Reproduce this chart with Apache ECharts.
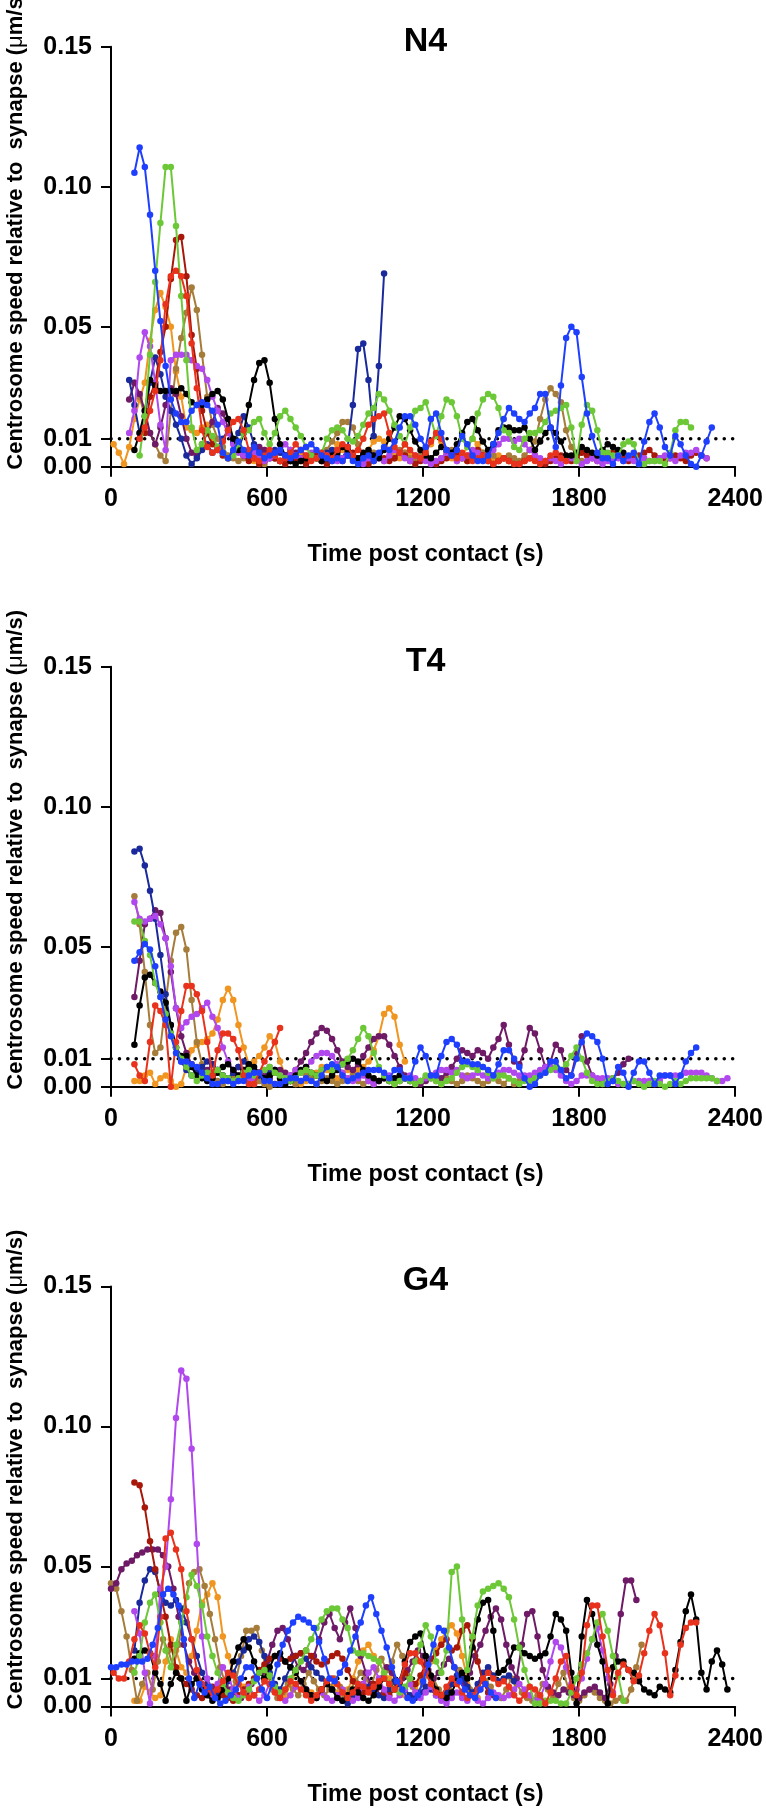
<!DOCTYPE html>
<html><head><meta charset="utf-8">
<script src="https://cdn.jsdelivr.net/npm/echarts@6/dist/echarts.min.js"></script>
<style>html,body{margin:0;padding:0;background:#fff}#c{width:766px;height:1810px}</style>
</head><body><div id="c"></div>
<script>
// ---- axis / labels ----
const STEP = 20; // sampling interval (s)
const xTicks = [0, 600, 1200, 1800, 2400];
const yTicks = [0, 0.01, 0.05, 0.10, 0.15];
const panelTitles = ['N4', 'T4', 'G4'];
const threshold = 0.01;
const xTitle = 'Time post contact (s)';

// ---- N4 (start time, values every 20 s) ----
const n4Orange_t0 = 10;
const n4Orange = [.008,.005,.001,.007,.017,.024,.030,.045,.056,.062,.057,.050,.034,.025,.014,.013,.012,.014,.015,.010,
.007,.005,.003,.005,.008,.006,.003,.002,.004,.006,.005,.003,.002,.004,.003,.002,.005,.007,.004,.003,
.002,.003,.005,.008,.006,.004,.003,.002,.004,.006,.009,.010,.009,.006,.004,.003,.005,.004,.002,.003,
.006,.008,.011,.009,.005,.003,.002,.004,.007,.010,.008,.005,.003,.002,.004,.003,.002];
const n4Brown_t0 = 90;
const n4Brown = [.030,.025,.018,.012,.008,.004,.002,.020,.035,.046,.055,.064,.056,.040,.025,.015,.010,.007,.004,.003,
.002,.003,.005,.004,.002,.001,.003,.004,.002,.003,.005,.004,.006,.003,.004,.005,.003,.006,.009,.012,
.016,.016,.014,.008,.004,.003,.005,.004,.002,.003,.003,.006,.005,.003,.002,.004,.003,.002,.001,.003,
.004,.006,.005,.003,.002,.004,.006,.005,.003,.004,.002,.003,.004,.003,.002,.004,.006,.009,.017,.024,
.028,.026,.023,.013,.007,.004,.002];
const n4DarkPurple_t0 = 70;
const n4DarkPurple = [.024,.030,.026,.020,.012,.008,.014,.022,.028,.026,.018,.010,.005,.004,.008,.012,.016,.021,.019,.014,
.009,.006,.004,.003,.005,.007,.006,.004,.003,.002,.004,.006,.005,.003,.002];
const n4Navy_t0 = 70;
const n4Navy = [.031,.022,.012,.018,.030,.039,.033,.025,.020,.015,.010,.004,.001,.003,.006,.008,.005,.007,.010,.013,
.009,.012,.018,.014,.008,.005,.004,.003,.006,.005,.003,.002,.004,.003,.002,.003,.004,.003,.005,.006,
.004,.003,.007,.022,.042,.044,.031,.011,.036,.069];
const n4DarkRed_t0 = 130;
const n4DarkRed = [.012,.025,.030,.041,.050,.067,.081,.082,.068,.047,.035,.020,.012,.008,.006,.004,.003,.005,.007,.004,
.002,.003,.001,.002,.004,.003,.002,.001,.002,.003,.002,.001,.003,.004,.002,.001,.002,.003,.002,.004,
.005,.003,.002,.001,.002,.004,.003,.002,.003,.005,.004,.002,.001,.002,.003,.002,.001,.002,.003,.004,
.005,.003,.002,.004,.006,.004,.002,.001,.002,.003,.002,.001,.001,.002,.003,.004,.002,.001,.002,.003,
.004,.003,.002,.003,.005,.004,.003,.002,.003,.004,.005,.004,.003,.002,.003,.004,.005,.006,.004,.003,
.002,.003,.004,.003,.002,.004,.005,.004,.003];
const n4Violet_t0 = 70;
const n4Violet = [.012,.020,.039,.048,.043,.030,.015,.006,.038,.040,.040,.040,.038,.036,.035,.031,.025,.020,.016,.012,
.008,.005,.004,.006,.005,.003,.002,.003,.004,.006,.008,.006,.004,.003,.004,.005,.003,.002,.004,.003,
.002,.003,.005,.004,.002,.001,.003,.004,.003,.002,.004,.006,.005,.003,.002,.004,.003,.002,.001,.002,
.003,.005,.004,.002,.003,.004,.006,.005,.003,.004,.006,.008,.010,.010,.009,.010,.008,.006,.004,.003,
.002,.003,.002,.001,.002,.003,.002,.001,.002,.003,.002,.001,.002,.003,.003,.002,.003,.002,.002,.003,
.002,.002,.003,.004,.003,.002,.004,.005,.005,.006,.004,.003];
const n4Black_t0 = 90;
const n4Black = [.006,.012,.020,.031,.029,.027,.027,.027,.027,.028,.026,.023,.022,.022,.024,.026,.027,.024,.017,.010,
.006,.012,.022,.031,.037,.038,.030,.017,.008,.004,.002,.001,.002,.003,.004,.003,.002,.003,.004,.005,
.007,.006,.004,.003,.005,.006,.004,.003,.006,.010,.014,.018,.017,.013,.009,.006,.004,.003,.005,.007,
.006,.005,.008,.012,.016,.017,.013,.009,.006,.008,.013,.014,.014,.013,.013,.014,.010,.006,.009,.012,
.014,.012,.009,.004,.004,.005,.007,.006,.005,.004,.006,.008,.007,.006,.005];
const n4Green_t0 = 110;
const n4Green = [.004,.018,.040,.066,.087,.107,.107,.086,.061,.038,.014,.006,.008,.013,.011,.007,.005,.003,.004,.008,
.012,.013,.016,.017,.012,.008,.012,.018,.020,.017,.014,.011,.007,.004,.003,.005,.010,.013,.014,.013,
.010,.009,.011,.015,.019,.021,.026,.024,.020,.015,.011,.008,.014,.020,.021,.023,.017,.011,.018,.024,
.023,.018,.010,.007,.010,.019,.024,.026,.025,.021,.013,.012,.007,.006,.010,.012,.012,.013,.016,.019,
.020,.021,.022,.014,.002,.015,.022,.020,.013,.005,.005,.004,.004,.008,.009,.008,.001,.001,.002,.002,
.002,.001,.005,.013,.016,.016,.014];
const n4Red_t0 = 110;
const n4Red = [.010,.014,.020,.027,.038,.058,.068,.070,.068,.061,.044,.028,.013,.007,.005,.006,.009,.013,.016,.017,
.013,.006,.003,.002,.004,.006,.004,.002,.003,.005,.008,.006,.004,.002,.003,.005,.004,.003,.006,.008,
.007,.004,.006,.010,.015,.017,.018,.019,.012,.007,.005,.008,.006,.004,.003,.005,.009,.012,.010,.006,
.004,.003,.005,.004,.002,.003,.004,.002,.001,.002,.003,.002,.001,.001,.002,.003,.002,.001,.002,.004,
.005,.003,.002];
const n4Blue_t0 = 90;
const n4Blue = [.105,.114,.107,.090,.070,.052,.036,.024,.019,.016,.016,.020,.022,.023,.022,.020,.015,.005,.003,.006,
.009,.006,.004,.007,.005,.003,.004,.005,.006,.004,.003,.004,.006,.007,.008,.006,.004,.003,.002,.003,
.002,.004,.002,.001,.003,.004,.002,.005,.007,.006,.009,.014,.018,.018,.015,.010,.007,.017,.019,.012,
.006,.004,.006,.011,.008,.004,.002,.002,.004,.008,.012,.017,.021,.019,.017,.016,.019,.021,.026,.026,
.014,.007,.029,.046,.050,.048,.032,.019,.011,.005,.003,.003,.001,.004,.002,.004,.005,.001,.009,.016,
.019,.014,.007,.004,.011,.008,.004,.001,.000,.004,.009,.014];

// ---- T4 ----
const t4Orange_t0 = 90;
const t4Orange = [.002,.002,.004,.005,.001,.003,.004,.002,.000,.001,.007,.013,.015,.016,.017,.019,.024,.031,.035,.031,
.022,.014,.008,.009,.011,.014,.018,.016,.009,.004,.002,.001,.001,.002,.003,.005,.007,.006,.004,.003,
.004,.006,.005,.006,.007,.009,.013,.018,.026,.028,.025,.015,.009];
const t4Brown_t0 = 90;
const t4Brown = [.068,.058,.041,.022,.012,.014,.030,.045,.055,.057,.049,.031,.016,.008,.004,.003,.002,.001,.002,.003,
.002,.004,.003,.001,.002,.001,.000,.001,.002,.003,.002,.001,.002,.004,.003,.001,.002,.003,.002,.001,
.002,.003,.004,.002,.001,.002,.001,.002,.003,.002,.001,.002,.003,.002,.001,.002,.003,.004,.002,.001,
.003,.002,.001,.002,.004,.003,.002,.001,.002,.003,.002,.001,.003,.001,.002];
const t4DarkPurple_t0 = 90;
const t4DarkPurple = [.032,.045,.058,.060,.063,.062,.053,.041,.028,.018,.012,.008,.005,.004,.006,.008,.006,.004,.003,.005,
.007,.006,.004,.003,.005,.004,.003,.005,.006,.005,.004,.006,.009,.012,.016,.019,.021,.020,.017,.013,
.009,.007,.006,.008,.011,.014,.017,.018,.018,.015,.011,.007,.004,.003,.002,.001,.002,.003,.004,.003,
.005,.007,.010,.013,.012,.011,.013,.012,.010,.014,.017,.022,.015,.009,.008,.013,.021,.019,.013,.007,
.009,.015,.013,.006,.004,.012,.018,.009,.004,.002,.001,.002,.003,.005,.008,.010];
const t4Navy_t0 = 90;
const t4Navy = [.084,.085,.079,.070,.060,.047,.033,.022,.014,.009,.006,.004,.005,.007,.009,.008,.006,.004,.003,.005,
.007,.009,.008,.006,.004,.003,.005,.006,.004,.003,.002];
const t4Violet_t0 = 90;
const t4Violet = [.066,.060,.059,.060,.061,.058,.053,.043,.028,.021,.023,.025,.026,.028,.030,.025,.021,.014,.009,.006,
.004,.003,.002,.003,.005,.006,.007,.006,.004,.003,.004,.006,.005,.007,.009,.011,.012,.012,.011,.008,
.005,.003,.002,.003,.004,.002,.001,.002,.003,.004,.003,.002,.003,.004,.003,.002,.003,.004,.005,.006,
.006,.005,.006,.004,.003,.004,.005,.004,.003,.004,.005,.006,.006,.005,.004,.004,.004,.005,.006,.007,
.007,.006,.004,.002,.001,.002,.004,.004,.004,.003,.003,.003,.002,.001,.001,.001,.002,.002,.002,.002,
.001,.002,.004,.004,.004,.004,.005,.005,.005,.005,.004,.003,.002,.002,.003];
const t4Black_t0 = 90;
const t4Black = [.015,.029,.039,.040,.037,.034,.030,.022,.014,.011,.011,.007,.004,.003,.002,.003,.005,.007,.008,.006,
.004,.006,.008,.007,.005,.003,.004,.006,.003,.001,.002,.004,.006,.007,.005,.004,.003,.002,.004,.006,
.008,.009,.010,.009,.006,.004,.003,.002,.003,.002,.003,.004,.003,.002];
const t4Green_t0 = 90;
const t4Green = [.059,.059,.052,.047,.037,.032,.026,.019,.014,.010,.007,.004,.002,.004,.005,.005,.006,.004,.003,.002,
.003,.005,.006,.004,.005,.006,.007,.005,.004,.003,.002,.003,.005,.006,.005,.004,.006,.007,.006,.007,
.008,.010,.013,.017,.021,.018,.012,.007,.004,.002,.001,.002,.003,.002,.001,.002,.004,.003,.002,.001,
.002,.003,.005,.007,.008,.007,.006,.007,.005,.003,.004,.004,.003,.002,.001,.002,.002,.003,.004,.005,
.006,.007,.006,.008,.011,.014,.010,.005,.002,.001,.001,.002,.003,.002,.001,.001,.002,.001,.000,.001,
.002,.001,.000,.001,.002,.001,.002,.003,.003,.003,.003,.003,.002];
const t4Red_t0 = 90;
const t4Red = [.008,.004,.002,.016,.029,.027,.022,.000,.016,.027,.036,.036,.033,.027,.016,.004,.013,.019,.019,.017,
.013,.004,.001,.001,.005,.009,.012,.016,.021];
const t4Blue_t0 = 90;
const t4Blue = [.045,.048,.051,.049,.043,.032,.024,.018,.012,.009,.009,.008,.007,.005,.003,.001,.001,.002,.002,.001,
.002,.002,.004,.005,.005,.002,.002,.001,.001,.002,.003,.003,.002,.003,.002,.001,.004,.007,.008,.007,
.004,.002,.003,.004,.005,.006,.006,.006,.005,.003,.006,.006,.003,.003,.009,.014,.011,.004,.004,.011,
.016,.017,.015,.009,.009,.008,.008,.007,.006,.004,.008,.013,.013,.010,.007,.003,.000,.001,.004,.005,
.009,.009,.006,.003,.004,.010,.016,.019,.018,.016,.010,.001,.002,.007,.005,.000,.005,.009,.009,.005,
.001,.004,.004,.004,.001,.004,.009,.012,.014];

// ---- G4 ----
const g4Orange_t0 = 90;
const g4Orange = [.002,.002,.007,.005,.003,.004,.016,.024,.020,.014,.012,.018,.027,.037,.040,.044,.039,.025,.018,.012,
.009,.007,.005,.004,.006,.009,.011,.008,.005,.004,.008,.012,.009,.006,.005,.004,.006,.008,.007,.005,
.004,.006,.010,.016,.020,.022,.018,.016,.012,.010,.008,.006,.004,.003,.006,.009,.012,.016,.020,.024,
.027,.029,.026,.018,.010,.005,.003];
const g4Brown_t0 = 0;
const g4Brown = [.044,.042,.034,.025,.013,.002,.008,.012,.006,.016,.024,.020,.014,.022,.035,.044,.048,.049,.043,.033,
.024,.014,.008,.005,.009,.018,.027,.027,.028,.020,.012,.006,.003,.005,.008,.006,.004,.008,.012,.009,
.006,.004,.006,.010,.007,.004,.006,.009,.012,.010,.007,.013,.017,.013,.016,.022,.018,.011,.007,.005,
.008,.012,.010,.006,.004,.006,.009,.013,.010,.006,.004,.006,.009,.007,.004,.003,.006,.010,.008,.005,
.003,.002,.004,.008,.006,.003,.008,.012,.006,.003,.002,.004,.006,.005,.003,.002,.001,.002,.003,.002,
.006,.014,.022];
const g4DarkPurple_t0 = 0;
const g4DarkPurple = [.042,.044,.049,.051,.052,.054,.055,.056,.056,.056,.054,.050,.042,.032,.022,.016,.012,.009,.006,.004,
.003,.005,.007,.006,.004,.003,.005,.008,.010,.012,.016,.022,.027,.028,.024,.018,.014,.013,.015,.018,
.024,.030,.033,.028,.024,.030,.035,.028,.018,.012,.008,.006,.010,.014,.012,.008,.010,.013,.016,.020,
.018,.013,.010,.012,.015,.017,.014,.010,.008,.012,.018,.022,.027,.032,.035,.031,.022,.014,.010,.022,
.033,.034,.025,.013,.007,.005,.004,.006,.005,.004,.003,.005,.006,.007,.005,.003,.008,.018,.033,.045,
.045,.038];
const g4Navy_t0 = 90;
const g4Navy = [.020,.037,.045,.049,.048,.041,.037,.036,.038,.035,.030,.024,.018,.012,.008,.005,.004,.006,.009,.012,
.016,.020,.024,.025,.023,.018,.012,.008,.006,.010,.014,.018,.019,.017,.014,.012,.010,.008,.006,.004,
.002,.001,.003,.006,.008,.007,.005,.004,.003,.006,.009,.008,.006,.004,.003,.005,.007,.006,.004,.003,
.005,.008,.011,.010,.007,.005,.008,.012,.014,.011,.009,.010,.011,.009];
const g4DarkRed_t0 = 90;
const g4DarkRed = [.080,.079,.071,.059,.049,.040,.032,.022,.014,.010,.008,.006,.004,.003,.005,.007,.006,.004,.003,.002,
.004,.006,.008,.010,.013,.015,.017,.018,.017,.016,.017,.018,.019,.020,.018,.016,.015,.016,.018,.019,
.017,.013,.009,.007,.005,.006,.008,.007,.005,.004,.006,.009,.012,.010,.008,.011,.015,.017,.019,.022,
.024,.020,.021,.027,.029,.024,.016,.009,.005,.004];
const g4Violet_t0 = 90;
const g4Violet = [.034,.026,.012,.001,.018,.042,.050,.074,.103,.120,.117,.092,.058,.025,.010,.004,.008,.014,.011,.006,
.003,.005,.007,.004,.002,.004,.008,.006,.003,.002,.004,.007,.009,.006,.004,.003,.005,.003,.002,.004,
.006,.004,.002,.003,.008,.012,.014,.010,.006,.003,.002,.004,.006,.008,.005,.003,.005,.007,.004,.002,
.001,.003,.005,.003,.002,.004,.002,.001,.003,.005,.004,.003,.004,.006,.008,.006,.004,.002,.003,.008,
.016,.023,.021,.014,.008,.006,.010,.017,.024,.028,.020,.010,.005];
const g4Black_t0 = 90;
const g4Black = [.017,.019,.020,.019,.012,.008,.002,.008,.012,.010,.002,.008,.010,.006,.004,.002,.003,.006,.010,.016,
.021,.024,.021,.016,.012,.010,.014,.018,.019,.016,.014,.012,.009,.006,.004,.003,.006,.008,.006,.003,
.002,.004,.006,.005,.003,.002,.004,.007,.010,.008,.006,.009,.016,.023,.025,.026,.018,.011,.006,.004,
.003,.005,.009,.012,.010,.021,.031,.037,.038,.027,.012,.013,.016,.021,.021,.019,.018,.017,.018,.019,
.025,.033,.031,.027,.012,.001,.025,.038,.033,.022,.016,.001,.014,.016,.016,.013,.012,.009,.006,.005,
.004,.007,.006,.005,.013,.023,.034,.040,.031,.012,.006,.016,.020,.015,.006];
const g4Green_t0 = 90;
const g4Green = [.012,.018,.030,.037,.040,.030,.020,.014,.022,.030,.039,.047,.043,.036,.025,.018,.012,.008,.005,.003,
.002,.004,.006,.009,.012,.013,.011,.007,.005,.006,.010,.013,.016,.020,.024,.028,.031,.034,.035,.035,
.031,.028,.020,.019,.019,.018,.017,.016,.012,.008,.006,.005,.007,.010,.016,.022,.029,.025,.016,.012,
.020,.048,.050,.031,.013,.025,.036,.041,.042,.043,.044,.042,.039,.031,.021,.013,.007,.001,.001,.002,
.002,.002,.001,.001,.005,.010,.015,.019,.024,.030,.033,.027,.018,.011,.002];
const g4Red_t0 = 10;
const g4Red = [.012,.010,.010,.016,.024,.029,.026,.019,.014,.032,.060,.062,.056,.049,.034,.024,.013,.008,.006,.005,
.006,.009,.012,.011,.008,.005,.003,.004,.006,.009,.008,.005,.003,.006,.009,.008,.006,.004,.002,.004,
.006,.009,.010,.008,.005,.003,.005,.008,.007,.005,.007,.009,.010,.008,.006,.009,.015,.019,.019,.016,
.012,.008,.005,.004,.007,.010,.008,.005,.003,.004,.006,.010,.012,.010,.008,.009,.007,.004,.002,.004,
.007,.006,.004,.001,.005,.010,.016,.018,.007,.004,.012,.029,.036,.036,.025,.013,.004,.012,.015,.013,
.009,.011,.019,.027,.033,.029,.019,.004,.011,.022,.028,.030,.030];
const g4Blue_t0 = 0;
const g4Blue = [.014,.014,.015,.015,.016,.016,.016,.017,.022,.028,.040,.042,.040,.036,.024,.010,.003,.008,.005,.007,
.003,.001,.002,.004,.006,.010,.014,.014,.010,.006,.003,.008,.015,.022,.027,.030,.032,.031,.030,.028,
.023,.017,.010,.009,.012,.015,.020,.025,.030,.036,.039,.033,.027,.021,.014,.009,.006,.003,.002,.004,
.009,.015,.022,.028,.027,.021,.014,.009,.006,.004,.003,.006,.008,.005,.003];

// ---- colours ----
const C = {
  black: '#000000', navy: '#1a2a9c', blue: '#1f3fff', green: '#6cc836', red: '#e8321c',
  darkred: '#a8180a', orange: '#f0951f', brown: '#a67c3a', darkpurple: '#6e1a66', violet: '#b048ee'
};

const panels = [
  [['orange', n4Orange_t0, n4Orange], ['brown', n4Brown_t0, n4Brown], ['darkpurple', n4DarkPurple_t0, n4DarkPurple],
   ['navy', n4Navy_t0, n4Navy], ['darkred', n4DarkRed_t0, n4DarkRed], ['violet', n4Violet_t0, n4Violet],
   ['black', n4Black_t0, n4Black], ['green', n4Green_t0, n4Green], ['red', n4Red_t0, n4Red], ['blue', n4Blue_t0, n4Blue]],
  [['orange', t4Orange_t0, t4Orange], ['brown', t4Brown_t0, t4Brown], ['darkpurple', t4DarkPurple_t0, t4DarkPurple],
   ['navy', t4Navy_t0, t4Navy], ['violet', t4Violet_t0, t4Violet], ['black', t4Black_t0, t4Black],
   ['green', t4Green_t0, t4Green], ['red', t4Red_t0, t4Red], ['blue', t4Blue_t0, t4Blue]],
  [['orange', g4Orange_t0, g4Orange], ['brown', g4Brown_t0, g4Brown], ['darkpurple', g4DarkPurple_t0, g4DarkPurple],
   ['navy', g4Navy_t0, g4Navy], ['darkred', g4DarkRed_t0, g4DarkRed], ['violet', g4Violet_t0, g4Violet],
   ['black', g4Black_t0, g4Black], ['green', g4Green_t0, g4Green], ['red', g4Red_t0, g4Red], ['blue', g4Blue_t0, g4Blue]]
];

// ---- layout ----
const FONT = '"Liberation Sans", Arial, Helvetica, sans-serif';
const gridLeft = 111, gridWidth = 629, gridH = 420;
const gridTops = [46.7, 666.7, 1286.4];

const grids = [], xAxes = [], yAxes = [], series = [], graphics = [];
gridTops.forEach((top, p) => {
  grids.push({ left: gridLeft, top: top, width: gridWidth, height: gridH, containLabel: false });
  xAxes.push({
    type: 'value', gridIndex: p, min: 0, max: 2400, interval: 600,
    axisLine: { show: true, onZero: false, lineStyle: { color: '#000', width: 2 } },
    axisTick: { show: true, length: 10, lineStyle: { color: '#000', width: 2 }, customValues: xTicks },
    axisLabel: { customValues: xTicks, color: '#000', fontFamily: FONT, fontWeight: 'bold', fontSize: 25, margin: 20,
      formatter: v => String(v) },
    splitLine: { show: false }
  });
  yAxes.push({
    type: 'value', gridIndex: p, min: 0, max: 0.15,
    axisLine: { show: true, lineStyle: { color: '#000', width: 2 } },
    axisTick: { show: true, length: 10, lineStyle: { color: '#000', width: 2 }, customValues: yTicks },
    axisLabel: { customValues: yTicks, color: '#000', fontFamily: FONT, fontWeight: 'bold', fontSize: 25, margin: 19,
      formatter: v => v.toFixed(2) },
    splitLine: { show: false }
  });
  // threshold dotted line
  series.push({
    type: 'line', xAxisIndex: p, yAxisIndex: p, data: [[0, threshold], [2400, threshold]],
    showSymbol: false, symbol: 'none', silent: true, z: 1, clip: false,
    lineStyle: { color: '#000', width: 3.5, type: [0.1, 8.3], cap: 'round' }
  });
  panels[p].forEach(([col, t0, vals], k) => {
    series.push({
      type: 'line', xAxisIndex: p, yAxisIndex: p, z: 2 + k, clip: false,
      data: vals.map((v, i) => [t0 + STEP * i, v]),
      symbol: 'circle', symbolSize: 6.5, showSymbol: true,
      itemStyle: { color: C[col] }, lineStyle: { color: C[col], width: 2 }
    });
  });
  // panel title
  graphics.push({ type: 'text', x: gridLeft + gridWidth / 2, y: top - 5.5,
    style: { text: panelTitles[p], fill: '#000', font: 'bold 34px ' + FONT, textAlign: 'center', textVerticalAlign: 'middle' } });
  // x-axis title
  graphics.push({ type: 'text', x: gridLeft + gridWidth / 2, y: top + gridH + 88,
    style: { text: xTitle, fill: '#000', font: 'bold 23.5px ' + FONT, textAlign: 'center', textVerticalAlign: 'middle' } });
  // y-axis title
  graphics.push({ type: 'text', x: 16, y: top + gridH + 3, rotation: Math.PI / 2,
    style: {
      text: '{b|Centrosome speed relative to  synapse (}{m|\u03bc}{b|m/s)}',
      textAlign: 'left', textVerticalAlign: 'middle',
      rich: {
        b: { fill: '#000', fontFamily: FONT, fontWeight: 'bold', fontSize: 22 },
        m: { fill: '#000', fontFamily: FONT, fontWeight: 'normal', fontSize: 22 }
      }
    } });
});

const chart = echarts.init(document.getElementById('c'), null, { renderer: 'canvas', width: 766, height: 1810 });
chart.setOption({
  animation: false, backgroundColor: '#fff',
  grid: grids, xAxis: xAxes, yAxis: yAxes, series: series, graphic: graphics
});
</script>
</body></html>
